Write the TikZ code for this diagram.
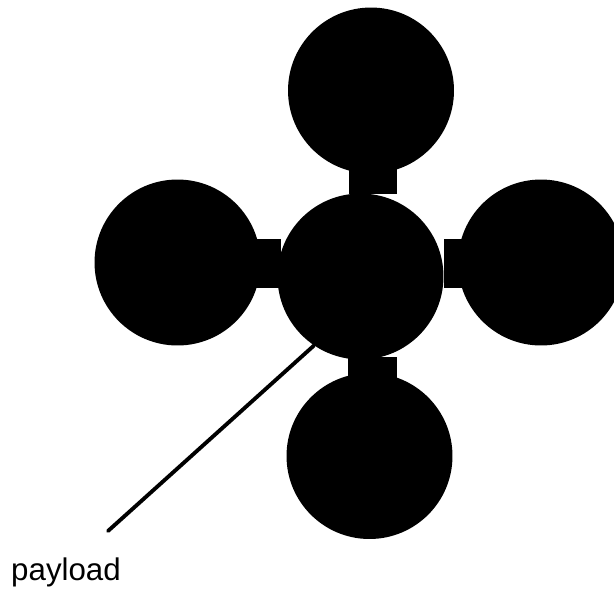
\documentclass[tikz,border=0pt]{standalone}
\usepackage{fontspec}
\setmainfont{Liberation Sans}
\tikzset{
  ball/.style={circle, fill=black, minimum size=3.32cm, inner sep=0pt},
  stub/.style={rectangle, fill=black, inner sep=0pt},
  leader/.style={line width=2.2pt, line cap=round}
}

\begin{document}
\begin{tikzpicture}[x=0.02cm, y=-0.02cm]
		\useasboundingbox (0,0) rectangle (614,589);
		\clip (0,0) rectangle (614,589);
		% stubs between the hub and the outer balls
		\node[stub, minimum width=0.96cm, minimum height=0.7cm] (stubT) at (373,176) {};
		\node[stub, minimum width=0.5cm, minimum height=0.98cm] (stubL) at (268,263.5) {};
		\node[stub, minimum width=0.4cm, minimum height=0.98cm] (stubR) at (454,263.5) {};
		\node[stub, minimum width=0.98cm, minimum height=0.6cm] (stubB) at (372.5,372) {};
		% balls
		\node[ball] (hub) at (360.5,276.5) {};
		\node[ball] (top) at (371,90.5) {};
		\node[ball] (left) at (177.5,262.5) {};
		\node[ball] (right) at (541,262.5) {};
		\node[ball] (bottom) at (369.5,456) {};
		% label
		\node[font=\fontsize{17.8}{20}\selectfont, inner sep=0pt, anchor=base] (payload) at (66,580) {payload};
		\coordinate (tip) at (108,531);
		\draw[leader] (tip) -- (hub.236);
	\end{tikzpicture}
\end{document}
